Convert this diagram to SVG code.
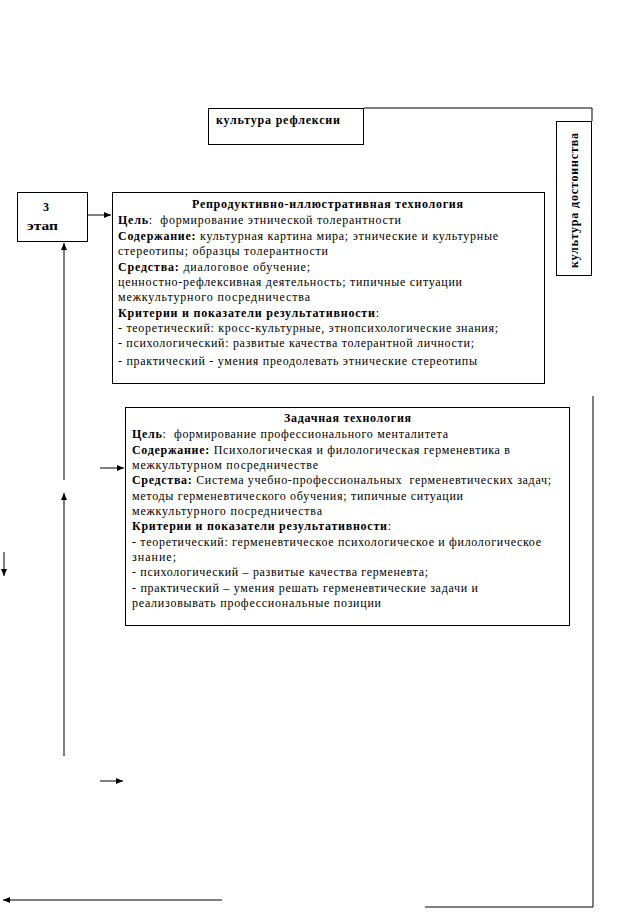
<svg xmlns="http://www.w3.org/2000/svg" width="617" height="913" viewBox="0 0 617 913">
<style>
.box{fill:#fff;stroke:#000;stroke-width:1}
.ln{fill:none;stroke:#000;stroke-width:1}
text{font-family:"Liberation Serif","DejaVu Serif",serif;font-size:12px;fill:#000}
.b{font-weight:bold}
</style>
<defs>
<marker id="ah" markerUnits="userSpaceOnUse" markerWidth="8" markerHeight="7" refX="7" refY="3" orient="auto">
<path d="M0,0 L7,3 L0,6 z" fill="#000"/>
</marker>
</defs>
<rect width="617" height="913" fill="#fff"/>
<g id="connectors">
<line class="ln" x1="88" y1="215" x2="111" y2="215" marker-end="url(#ah)"/>
<line class="ln" x1="64" y1="480" x2="64" y2="243" marker-end="url(#ah)"/>
<line class="ln" x1="64" y1="756" x2="64" y2="493" marker-end="url(#ah)"/>
<line class="ln" x1="100" y1="468" x2="124" y2="468" marker-end="url(#ah)"/>
<line class="ln" x1="100" y1="781" x2="123" y2="781" marker-end="url(#ah)"/>
<line class="ln" x1="4" y1="552" x2="4" y2="576" marker-end="url(#ah)"/>
<line class="ln" x1="222" y1="900" x2="3" y2="900" marker-end="url(#ah)"/>
<polyline class="ln" points="364,108 592,108 592,121"/>
<polyline class="ln" points="593,396 593,907 425,907"/>
</g>
<g id="node-reflexia">
<rect class="box" x="208.5" y="108.5" width="155" height="36"/>
<text class="b" x="216" y="124" textLength="124" lengthAdjust="spacing">культура рефлексии</text>
</g>
<g id="node-dostoinstvo">
<rect class="box" x="556.5" y="121.5" width="35" height="154"/>
<text class="b" transform="translate(578,268) rotate(-90)" x="0" y="0" textLength="135" lengthAdjust="spacing">культура  достоинства</text>
</g>
<g id="node-etap">
<rect class="box" x="17.5" y="192.5" width="70" height="49"/>
<text class="b" x="46" y="211" font-size="14" text-anchor="middle">3</text>
<text class="b" x="27" y="230" font-size="14" textLength="31" lengthAdjust="spacingAndGlyphs">этап</text>
</g>
<g id="node-reproductive">
<rect class="box" x="112.5" y="192.5" width="432" height="191"/>
<text class="b" x="192" y="208" textLength="271" lengthAdjust="spacing">Репродуктивно-иллюстративная технология</text>
<text x="118" y="224" textLength="283" lengthAdjust="spacing" xml:space="preserve"><tspan class="b">Цель</tspan>:  формирование этнической толерантности</text>
<text x="118" y="240" textLength="380" lengthAdjust="spacing"><tspan class="b">Содержание:</tspan> культурная картина мира; этнические и культурные</text>
<text x="118" y="255" textLength="210" lengthAdjust="spacing">стереотипы; образцы толерантности</text>
<text x="118" y="271" textLength="192" lengthAdjust="spacing"><tspan class="b">Средства:</tspan> диалоговое обучение;</text>
<text x="118" y="286" textLength="344" lengthAdjust="spacing">ценностно-рефлексивная деятельность; типичные ситуации</text>
<text x="118" y="301" textLength="192" lengthAdjust="spacing">межкультурного посредничества</text>
<text x="118" y="317" textLength="261" lengthAdjust="spacing"><tspan class="b">Критерии и показатели результативности</tspan>:</text>
<text x="118" y="332" textLength="380" lengthAdjust="spacing">- теоретический: кросс-культурные, этнопсихологические знания;</text>
<text x="118" y="347" textLength="356" lengthAdjust="spacing">- психологический: развитые качества толерантной личности;</text>
<text x="118" y="365" textLength="359" lengthAdjust="spacing">- практический - умения преодолевать этнические стереотипы</text>
</g>
<g id="node-zadachnaya">
<rect class="box" x="125.5" y="407.5" width="444" height="218"/>
<text class="b" x="284" y="422" textLength="127" lengthAdjust="spacing">Задачная технология</text>
<text x="132" y="438" textLength="316" lengthAdjust="spacing" xml:space="preserve"><tspan class="b">Цель</tspan>:  формирование профессионального менталитета</text>
<text x="132" y="454" textLength="378" lengthAdjust="spacing"><tspan class="b">Содержание:</tspan> Психологическая и филологическая герменевтика в</text>
<text x="132" y="469" textLength="186" lengthAdjust="spacing">межкультурном посредничестве</text>
<text x="132" y="484" textLength="419" lengthAdjust="spacing" xml:space="preserve"><tspan class="b">Средства:</tspan> Система учебно-профессиональных  герменевтических задач;</text>
<text x="132" y="500" textLength="331" lengthAdjust="spacing">методы герменевтического обучения; типичные ситуации</text>
<text x="132" y="515" textLength="190" lengthAdjust="spacing">межкультурного посредничества</text>
<text x="132" y="530" textLength="259" lengthAdjust="spacing"><tspan class="b">Критерии и показатели результативности</tspan>:</text>
<text x="132" y="546" textLength="409" lengthAdjust="spacing">- теоретический: герменевтическое психологическое и филологическое</text>
<text x="132" y="561" textLength="44" lengthAdjust="spacing">знание;</text>
<text x="132" y="576" textLength="296" lengthAdjust="spacing">- психологический – развитые качества герменевта;</text>
<text x="132" y="592" textLength="346" lengthAdjust="spacing">- практический – умения решать герменевтические задачи и</text>
<text x="132" y="607" textLength="249" lengthAdjust="spacing">реализовывать профессиональные позиции</text>
</g>
</svg>
